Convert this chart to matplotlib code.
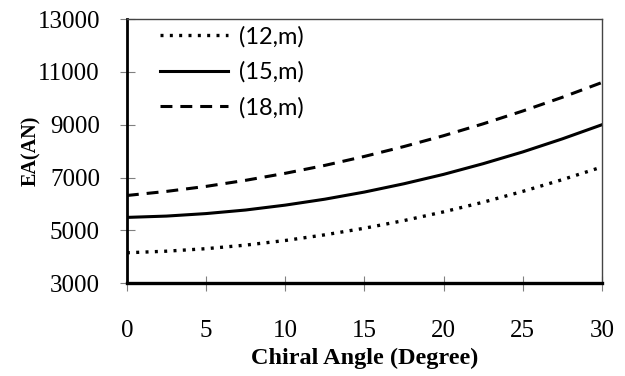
import numpy as np
import matplotlib
matplotlib.use('Agg')
import matplotlib.pyplot as plt

# chiral angle (degree)
angle = [0, 2.5, 5, 7.5, 10, 12.5, 15, 17.5, 20, 22.5, 25, 27.5, 30]

# EA(AN) for the three tube families
ea_12 = [4150, 4210, 4305, 4440, 4615, 4830, 5080, 5370, 5700, 6065, 6475, 6920, 7400]
ea_15 = [5490, 5540, 5635, 5770, 5955, 6180, 6450, 6765, 7120, 7525, 7970, 8465, 9000]
ea_18 = [6320, 6475, 6665, 6895, 7160, 7460, 7800, 8175, 8585, 9035, 9520, 10040, 10600]

labels = ['(12,m)', '(15,m)', '(18,m)']
yticks = [3000, 5000, 7000, 9000, 11000, 13000]
xticks = [0, 5, 10, 15, 20, 25, 30]

fig = plt.figure(figsize=(6.25, 3.76), dpi=100)
ax = fig.add_axes([0.203, 0.247, 0.76, 0.702])

ax.plot(angle, ea_12, color='black', lw=2.4, linestyle=(0, (0.9, 1.9)), label=labels[0])
ax.plot(angle, ea_15, color='black', lw=2.2, linestyle='-', label=labels[1])
ax.plot(angle, ea_18, color='black', lw=2.2, linestyle=(0, (3.9, 2.6)), label=labels[2])

ax.set_xlim(0, 30)
ax.set_ylim(3000, 13000)
ax.set_xticks(xticks)
ax.set_yticks(yticks)

# spines: heavy left/bottom, thin grey top/right
ax.spines['left'].set_linewidth(2.0)
ax.spines['bottom'].set_linewidth(2.4)
for s in ['top', 'right']:
    ax.spines[s].set_linewidth(1.0)
    ax.spines[s].set_color('#444444')

ax.tick_params(direction='inout', length=10.8, width=0.8, color='#808080')
ax.tick_params(axis='y', pad=14)
ax.tick_params(axis='x', pad=21)
for t in ax.get_xticklabels() + ax.get_yticklabels():
    t.set_fontfamily('Liberation Serif')
    t.set_fontsize(18)

ax.set_xlabel('Chiral Angle (Degree)', fontfamily='Liberation Serif',
              fontweight='bold', fontsize=17.5)
ax.xaxis.set_label_coords(0.5, -0.246)
ax.set_ylabel('EA(AN)', fontfamily='Liberation Serif', fontweight='bold',
              fontsize=14.5)
ax.yaxis.set_label_coords(-0.18, 0.5)

leg = ax.legend(loc='upper left', bbox_to_anchor=(0.069, 0.975), frameon=False,
                prop={'family': 'Lato', 'size': 17}, handlelength=2.9,
                handletextpad=0.45, labelspacing=0.6, borderpad=0,
                borderaxespad=0)

fig.savefig('out.png', dpi=100)
